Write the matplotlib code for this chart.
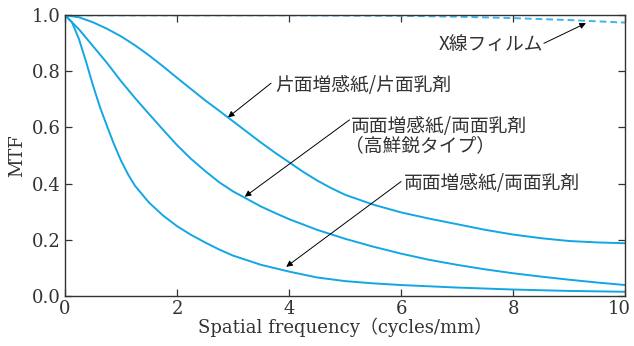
import matplotlib
matplotlib.use("Agg")
import matplotlib.pyplot as plt
from matplotlib.transforms import ScaledTranslation

plt.rcParams['font.family'] = ['DejaVu Serif', 'Noto Sans CJK JP']

# values
freq_single = [0, 0.25, 0.5, 0.75, 1, 1.25, 1.5, 1.75, 2, 2.25, 2.5, 2.75, 3, 3.25, 3.5, 3.75, 4, 4.25, 4.5,
               4.75, 5, 5.5, 6, 6.5, 7, 7.5, 8, 8.5, 9, 9.5, 10]
mtf_single = [1.0, 0.993, 0.975, 0.952, 0.925, 0.893, 0.857, 0.818, 0.777, 0.737, 0.697, 0.66, 0.622, 0.584,
              0.546, 0.51, 0.476, 0.442, 0.411, 0.384, 0.36, 0.325, 0.297, 0.275, 0.255, 0.235, 0.218, 0.205,
              0.195, 0.19, 0.187]

freq_sharp = [0, 0.25, 0.5, 0.75, 1, 1.25, 1.5, 1.75, 2, 2.25, 2.5, 2.75, 3, 3.25, 3.5, 3.75, 4, 4.5, 5, 5.5,
              6, 6.5, 7, 7.5, 8, 8.5, 9, 9.5, 10]
mtf_sharp = [1.0, 0.95, 0.89, 0.83, 0.765, 0.705, 0.648, 0.592, 0.537, 0.488, 0.445, 0.405, 0.372, 0.345,
             0.318, 0.295, 0.273, 0.235, 0.203, 0.175, 0.15, 0.128, 0.11, 0.094, 0.08, 0.068, 0.057, 0.047,
             0.038]

freq_double = [0, 0.125, 0.25, 0.375, 0.5, 0.625, 0.75, 0.875, 1, 1.125, 1.25, 1.5, 1.75, 2, 2.25, 2.5, 2.75,
               3, 3.5, 4, 4.5, 5, 5.5, 6, 7, 8, 9, 10]
mtf_double = [1.0, 0.975, 0.915, 0.835, 0.75, 0.672, 0.605, 0.54, 0.482, 0.433, 0.392, 0.332, 0.286, 0.248,
              0.217, 0.19, 0.165, 0.143, 0.11, 0.086, 0.065, 0.052, 0.044, 0.038, 0.029, 0.022, 0.017, 0.014]

freq_film = [0, 2, 4, 6, 7, 8, 9, 10]
mtf_film = [1.0, 1.0, 1.0, 0.998, 0.995, 0.99, 0.983, 0.974]

blue = '#12a7e4'

fig = plt.figure(figsize=(6.34, 3.46), dpi=100)
ax = fig.add_axes([0.1025, 0.1454, 0.8835, 0.8104])

ax.plot(freq_film, mtf_film, color='#3fb6ea', lw=1.4, linestyle=(0, (3.5, 2)))
ax.plot(freq_single, mtf_single, color=blue, lw=1.4)
ax.plot(freq_sharp, mtf_sharp, color=blue, lw=1.4)
ax.plot(freq_double, mtf_double, color=blue, lw=1.4)

ax.set_xlim(0, 10)
ax.set_ylim(0, 1.0)
ax.set_xticks([0, 2, 4, 6, 8, 10])
ax.set_yticks([0, 0.2, 0.4, 0.6, 0.8, 1.0])
ax.set_yticklabels(['0.0', '0.2', '0.4', '0.6', '0.8', '1.0'])
ax.tick_params(direction='in', length=5, width=0.9, top=True, right=True,
               labelsize=13, colors='#333333', labelcolor='#333333', pad=3)
for s in ax.spines.values():
    s.set_linewidth(1.0)
    s.set_color('#333333')

# last x label sits at the right edge, nudge it in a little
last = ax.get_xticklabels()[-1]
last.set_transform(last.get_transform() + ScaledTranslation(-4 / 72, 0, fig.dpi_scale_trans))

ax.set_xlabel('Spatial frequency（cycles/mm）', fontsize=13, color='#333333', labelpad=0)
ax.set_ylabel('MTF', fontsize=13, color='#333333', labelpad=4)

arrow = dict(arrowstyle='-|>', lw=0.7, color='black', mutation_scale=9, shrinkA=0, shrinkB=0)
tcol = '#333333'
jp = ['Noto Sans CJK JP', 'DejaVu Sans']

ax.annotate('', xy=(2.91, 0.636), xytext=(3.68, 0.758), arrowprops=arrow)
ax.text(3.75, 0.75, '片面増感紙/片面乳剤', fontsize=13.5, color=tcol, va='center', ha='left', family=jp)

ax.annotate('', xy=(3.21, 0.353), xytext=(5.08, 0.627), arrowprops=arrow)
ax.text(5.1, 0.605, '両面増感紙/両面乳剤', fontsize=13.5, color=tcol, va='center', ha='left', family=jp)
ax.text(5.0, 0.535, '（高鮮鋭タイプ）', fontsize=13.5, color=tcol, va='center', ha='left', family=jp)

ax.annotate('', xy=(3.95, 0.103), xytext=(6.0, 0.407), arrowprops=arrow)
ax.text(6.05, 0.40, '両面増感紙/両面乳剤', fontsize=13.5, color=tcol, va='center', ha='left', family=jp)

ax.annotate('', xy=(9.30, 0.972), xytext=(8.55, 0.90), arrowprops=arrow)
ax.text(8.53, 0.895, 'X線フィルム', fontsize=13.5, color=tcol, va='center', ha='right', family=jp)

fig.savefig('out.png', dpi=100)
